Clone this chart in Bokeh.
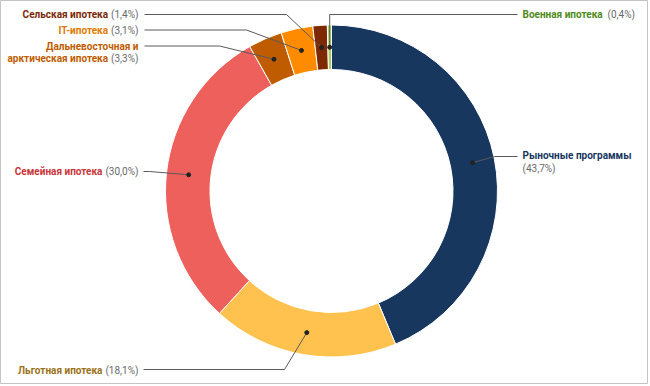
import math
from bokeh.plotting import figure
from bokeh.models import Range1d, ColumnDataSource
from bokeh.core.properties import value
from bokeh.embed import file_html
from bokeh.resources import INLINE

# ---------------- data ----------------
categories = ["Рыночные программы", "Льготная ипотека", "Семейная ипотека",
              "Дальневосточная и арктическая ипотека", "IT-ипотека",
              "Сельская ипотека", "Военная ипотека"]
shares = [43.7, 18.1, 30.0, 3.3, 3.1, 1.4, 0.4]
slice_colors = ["#17375e", "#ffc24f", "#ee605c", "#c05c00", "#ff8c00", "#7d2a02", "#a8d060"]
text_colors = ["#17375e", "#9a7218", "#c8353a", "#c05c00", "#e07a00", "#7a2805", "#4e8a18"]
pct_labels = ["(" + ("%.1f" % s).replace(".", ",") + "%)" for s in shares]

# ---------------- layout (reference pixel coords) ----------------
W, H = 648, 384
OX, OY = 1, 1
def X(rx): return rx - OX
def Y(ry): return H - (ry - OY)

CX, CY = 332, 191.5
R_OUT, R_IN = 166, 121.5
R_DOT = (R_OUT + R_IN) / 2
FS_B = 10
FS_N = 10
FONT = "Roboto"
PCT_GRAY = "#6a6a6a"

# Roboto regular advance widths (em) for percentage strings
CW = {"(": 0.342, ")": 0.348, ",": 0.196, "%": 0.733, " ": 0.248}
def pct_width(t):
    return sum(CW.get(c, 0.562) for c in t) * FS_N

p = figure(width=W, height=H, x_range=Range1d(0, W), y_range=Range1d(0, H),
           output_backend="svg", toolbar_location=None, min_border=0,
           x_axis_location=None, y_axis_location=None)
p.grid.visible = False
p.outline_line_color = "#c4c4c4"
p.outline_line_width = 1
p.background_fill_color = "white"
p.border_fill_color = "white"

# wedges
starts, ends, mids = [], [], []
cum = 0.0
for s in shares:
    starts.append(math.pi / 2 - 2 * math.pi * cum / 100.0)
    ends.append(math.pi / 2 - 2 * math.pi * (cum + s) / 100.0)
    mids.append(math.pi / 2 - 2 * math.pi * (cum + s / 2) / 100.0)
    cum += s

src = ColumnDataSource(dict(start=starts, end=ends, color=slice_colors))
p.annular_wedge(x=X(CX), y=Y(CY), inner_radius=R_IN, outer_radius=R_OUT,
                start_angle="start", end_angle="end", direction="clock",
                fill_color="color", line_color="white", line_width=1, source=src)

dot_x = [X(CX) + R_DOT * math.cos(a) for a in mids]
dot_y = [Y(CY) + R_DOT * math.sin(a) for a in mids]

# leader lines: (start, knee) in reference coords, knee x None -> dot x
leaders = [
    ((518, 157), (495, 157)),     # Рыночные
    ((144, 370), (285, 370)),     # Льготная
    ((144, 172), (150, 172)),     # Семейная
    ((145, 46.5), (220, 46.5)),   # Дальневосточная
    ((145, 30.5), (247, 30.5)),   # IT
    ((145, 15), (287, 15)),       # Сельская
    ((518, 15), (None, 15)),      # Военная
]
xs, ys = [], []
for i, ((sx, sy), (kx, ky)) in enumerate(leaders):
    kxx = dot_x[i] if kx is None else X(kx)
    xs.append([X(sx), kxx, dot_x[i]])
    ys.append([Y(sy), Y(ky), dot_y[i]])
p.multi_line(xs=xs, ys=ys, line_color="#5a5a5a", line_width=1)
p.scatter(x=dot_x, y=dot_y, size=4, color="#222222")

# labels
texts = []  # (text, x, y, align, bold, color)
RE = 139  # right edge of left-side labels
GAP = 3
# Рыночные
texts.append((categories[0], 523, 156, "left", True, text_colors[0]))
texts.append((pct_labels[0], 523, 168.5, "left", False, PCT_GRAY))
# left side single-line labels
for i, ty in [(1, 371), (2, 172), (4, 30.5), (5, 15)]:
    texts.append((pct_labels[i], RE, ty, "right", False, PCT_GRAY))
    texts.append((categories[i], RE - pct_width(pct_labels[i]) - GAP, ty, "right", True, text_colors[i]))
# Дальневосточная (two lines)
texts.append(("Дальневосточная и", RE, 46.5, "right", True, text_colors[3]))
texts.append((pct_labels[3], RE, 59, "right", False, PCT_GRAY))
texts.append(("арктическая ипотека", RE - pct_width(pct_labels[3]) - GAP, 59, "right", True, text_colors[3]))
# Военная
texts.append((categories[6], 523, 15, "left", True, text_colors[6]))
texts.append((pct_labels[6], 608, 15, "left", False, PCT_GRAY))

for bold in (True, False):
    for align in ("left", "right"):
        sel = [t for t in texts if t[4] == bold and t[3] == align]
        if not sel:
            continue
        p.text(x=[X(t[1]) for t in sel], y=[Y(t[2]) for t in sel], text=[t[0] for t in sel],
               text_color=[t[5] for t in sel], text_align=align, text_baseline="middle",
               text_font=value(FONT), text_font_size="%.1fpx" % (FS_B if bold else FS_N),
               text_font_style="bold" if bold else "normal")

open("out.html", "w").write(file_html(p, INLINE))
